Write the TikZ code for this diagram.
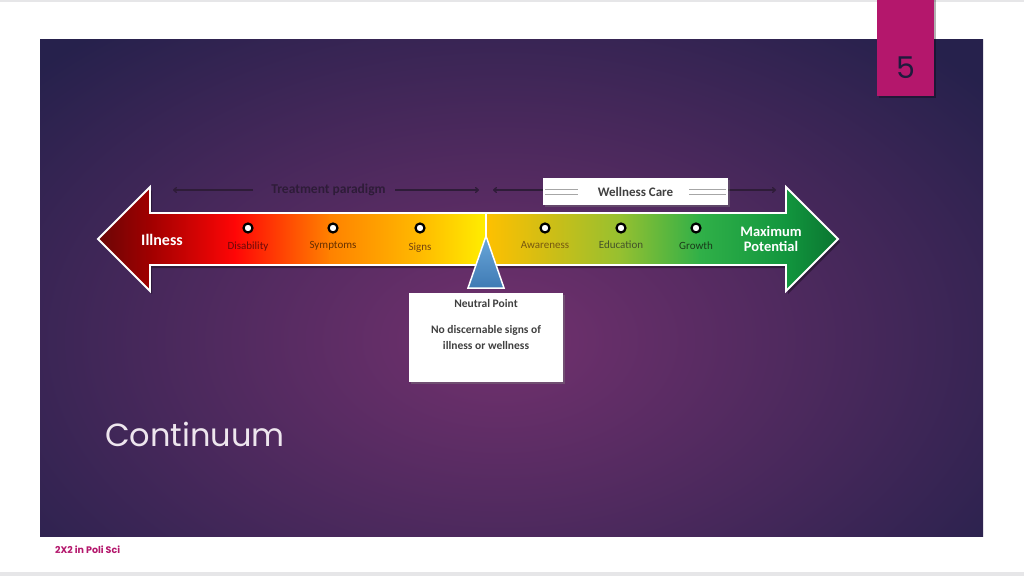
\documentclass[tikz,border=0pt]{standalone}
\usepackage{fontspec}
\setmainfont{Carlito}
\newfontfamily\gothic{Poppins}
\usepackage{tikz}
\usetikzlibrary{positioning,arrows.meta,calc,shadows}
\definecolor{ctbgmid}{HTML}{72316E}
\definecolor{ctbgedge}{HTML}{26214C}
\definecolor{ctpink}{HTML}{B4176C}
\definecolor{ctpage}{HTML}{E6E6E8}
\definecolor{ctc0}{HTML}{6A0606}
\definecolor{ctc1}{HTML}{A00000}
\definecolor{ctc2}{HTML}{FF0606}
\definecolor{ctc3}{HTML}{FF8200}
\definecolor{ctc4}{HTML}{FFBA00}
\definecolor{ctc5}{HTML}{FFEE00}
\definecolor{ctc6}{HTML}{FFC000}
\definecolor{ctc7}{HTML}{D2BE14}
\definecolor{ctc8}{HTML}{96C030}
\definecolor{ctc9}{HTML}{30B048}
\definecolor{ctc10}{HTML}{12963E}
\definecolor{ctc11}{HTML}{0A7430}
\definecolor{ctbluetop}{HTML}{6AA8DA}
\definecolor{ctbluebot}{HTML}{3F7AB4}
\definecolor{ctline}{HTML}{2E1C38}
\definecolor{cttext}{HTML}{404040}
\definecolor{ctlabred}{HTML}{6A0A0A}
\definecolor{ctlabbrown}{HTML}{663000}
\definecolor{ctlabamber}{HTML}{744410}
\definecolor{ctlabolive}{HTML}{765810}
\definecolor{ctlabmoss}{HTML}{44522A}
\definecolor{ctlabgreen}{HTML}{1A3A1A}
\tikzset{
  outline/.style    ={draw=white, line width=1.8pt, line join=miter},
  milestone/.style  ={circle, draw=black, line width=2.2pt, fill=white,
                      minimum size=9pt, inner sep=0pt},
  stoplabel/.style  ={font=\fontsize{11}{12}\selectfont, inner sep=0pt},
  endlabel/.style   ={font=\fontsize{14.5}{14}\selectfont\bfseries, text=white,
                      align=center, inner sep=0pt},
  carebox/.style    ={fill=white, minimum width=185pt, minimum height=27pt,
                      inner sep=0pt, font=\fontsize{13}{14}\selectfont\bfseries,
                      text=cttext, drop shadow={shadow xshift=1.5pt, shadow yshift=-1.5pt, opacity=.35}},
  infobox/.style    ={fill=white, minimum width=154pt, minimum height=89pt,
                      inner sep=0pt, drop shadow={shadow xshift=2pt, shadow yshift=-2pt, opacity=.4}},
  infotext/.style   ={font=\fontsize{11.5}{16}\selectfont\bfseries, text=cttext,
                      align=center, inner sep=0pt},
  careline/.style   ={draw=ctline, line width=1.3pt},
  boxline/.style    ={draw=black!35, line width=.8pt},
  tip/.style        ={-{To[length=4pt,width=6pt]}},
  pagenum/.style    ={font=\gothic\fontsize{30}{30}\selectfont, text=ctbgedge!80!black},
}
\newcommand{\arrowpath}{(98,239) -- (150,187) -- (150,213) -- (786,213) -- (786,187)
  -- (838,239) -- (786,291) -- (786,265) -- (150,265) -- (150,291) -- cycle}

\begin{document}
\begin{tikzpicture}[x=1pt, y=-1pt]
    \useasboundingbox (0,0) rectangle (1024,576);
    % slide page and purple panel
    \fill[white] (0,0) rectangle (1024,576);
    \fill[ctpage] (0,0) rectangle (1024,1.5);
    \fill[ctpage] (0,572) rectangle (1024,576);
    \begin{scope}
        \clip (40,39) rectangle (983,536);
        \shade[inner color=ctbgmid, outer color=ctbgedge] (-130,-60) rectangle (1130,740);
    \end{scope}
    % page number tab
    \fill[black, opacity=.3] (879,0) rectangle (936,98);
    \fill[ctpink] (877,0) rectangle (934,96);
    \node[pagenum] (pnum) at (905.5,68) {5};
    % treatment paradigm annotation
    \node[font=\fontsize{13.5}{14}\selectfont\bfseries, text=ctline, inner sep=0pt]
        (treat) at (328.5,190) {Treatment paradigm};
    \coordinate (treatA) at (173,190); \coordinate (treatB) at (253,190);
    \coordinate (treatC) at (395,190); \coordinate (treatD) at (479,190);
    \draw[careline, tip] (treatB) -- (treatA);
    \draw[careline, tip] (treatC) -- (treatD);
    % wellness care annotation
    \coordinate (careA) at (493,190); \coordinate (careB) at (776,190);
    \draw[careline, tip] (543,190) -- (careA);
    \draw[careline, tip] (728,190) -- (careB);
    \node[carebox] (care) at (635.5,191.5) {Wellness Care};
    \foreach \yy in {-3,2}{
        \draw[boxline] ([xshift=2pt, yshift=\yy pt]care.west) -- ++(33,0);
        \draw[boxline] ([xshift=-2pt, yshift=\yy pt]care.east) -- ++(-37,0);}
    % double arrow with colour ramp
    \fill[black, opacity=.35, shift={(2,3)}] \arrowpath;
    \begin{scope}
        \clip \arrowpath;
        \foreach \xa/\xb/\ca/\cb in {97/150/ctc0/ctc1, 150/235/ctc1/ctc2,
                235/330/ctc2/ctc3, 330/420/ctc3/ctc4, 420/486/ctc4/ctc5,
                486/545/ctc6/ctc7, 545/620/ctc7/ctc8, 620/700/ctc8/ctc9,
                700/786/ctc9/ctc10, 786/839/ctc10/ctc11}
            \shade[left color=\ca, right color=\cb] (\xa-.3,180) rectangle (\xb+.3,300);
    \end{scope}
    \draw[outline] \arrowpath;
    \node[endlabel, font=\fontsize{16}{16}\selectfont\bfseries] (illness) at (162,240) {Illness};
    \node[endlabel] (maxpot) at (771,239) {Maximum\\[1pt]Potential};
    % milestones
    \foreach \x/\lab/\col/\ly [count=\i] in {248/Disability/ctlabred/247,
            333/Symptoms/ctlabbrown/246, 420/Signs/ctlabamber/248,
            545/Awareness/ctlabolive/245, 621/Education/ctlabmoss/245,
            696/Growth/ctlabgreen/246}{
        \node[milestone] (m\i) at (\x,228) {};
        \node[stoplabel, text=\col] (l\i) at (\x,\ly) {\lab};}
    % neutral point
    \coordinate (split) at (486,213);
    \coordinate (apex) at (486,236);
    \draw[outline, line width=1.5pt, top color=ctbluetop, bottom color=ctbluebot]
        (apex) -- (504,288) -- (468,288) -- cycle;
    \draw[outline] (split) -- (apex);
    \node[infobox] (neutral) at (486,337.5) {};
    \node[infotext] (ntitle) at (486,304) {Neutral Point};
    \node[infotext, below=17pt of ntitle] (nbody) {No discernable signs of\\illness or wellness};
    % slide title and footer
    \node[font=\gothic\fontsize{32}{32}\selectfont, text=white!88!ctbgmid, anchor=base west,
        inner sep=0pt] (title) at (105,446) {Continuum};
    \node[font=\gothic\fontsize{9.5}{10}\selectfont\bfseries, text=ctpink, anchor=west,
        inner sep=0pt] (footer) at (55,550) {2X2 in Poli Sci};
\end{tikzpicture}
\end{document}
